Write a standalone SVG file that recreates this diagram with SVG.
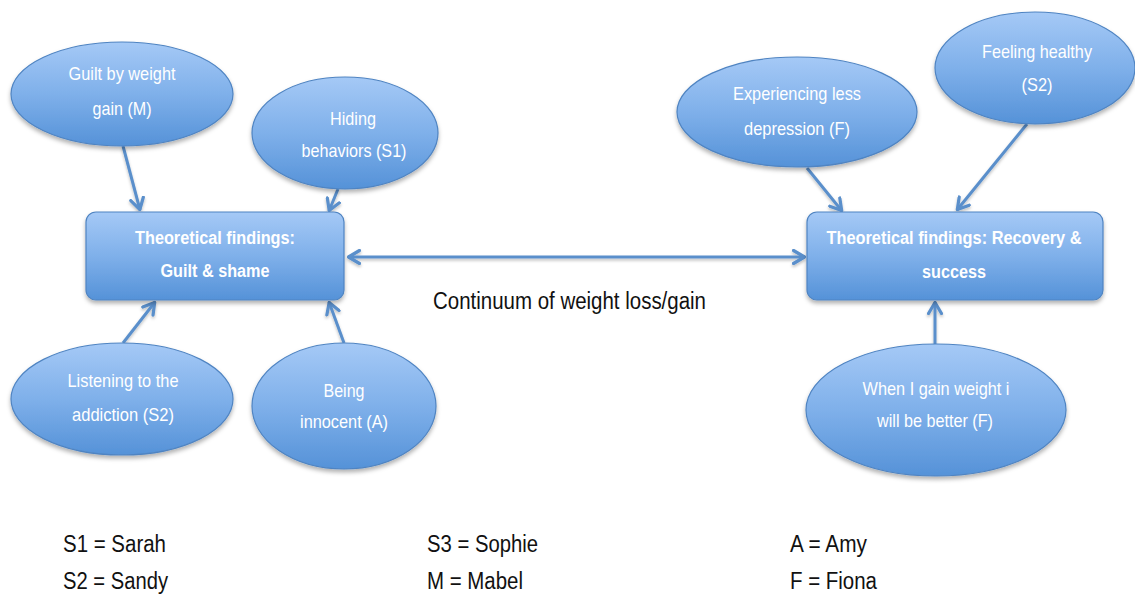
<svg xmlns="http://www.w3.org/2000/svg" width="1135" height="596" viewBox="0 0 1135 596">
  <defs>
    <linearGradient id="blueFill" x1="0" y1="0" x2="0" y2="1">
      <stop offset="0" stop-color="#a5c9f6"/>
      <stop offset="0.5" stop-color="#7fb0ea"/>
      <stop offset="1" stop-color="#5592d8"/>
    </linearGradient>
    <filter id="shadow" x="-10%" y="-10%" width="120%" height="130%">
      <feDropShadow dx="0" dy="3" stdDeviation="2" flood-color="#000" flood-opacity="0.3"/>
    </filter>
    <filter id="lineShadow" filterUnits="userSpaceOnUse" x="0" y="0" width="1135" height="596">
      <feDropShadow dx="0" dy="2" stdDeviation="1.5" flood-color="#000" flood-opacity="0.25"/>
    </filter>
    <marker id="chev" viewBox="0 0 14 16" refX="13" refY="8" markerWidth="14" markerHeight="16" markerUnits="userSpaceOnUse" orient="auto-start-reverse">
      <path d="M1.5,1.5 L12.5,8 L1.5,14.5" fill="none" stroke="#5a8fcb" stroke-width="3.2" stroke-linecap="round" stroke-linejoin="round"/>
    </marker>
    <style>
      .shape { fill: url(#blueFill); stroke: #4f84c2; stroke-width: 1.2; filter: url(#shadow); }
      .lbl { font-family: "Liberation Sans", Arial, sans-serif; font-size: 19px; fill: #ffffff; text-anchor: middle; }
      .bold { font-family: "Liberation Sans", Arial, sans-serif; font-size: 18px; font-weight: bold; fill: #ffffff; text-anchor: middle; }
      .plain { font-family: "Liberation Sans", Arial, sans-serif; font-size: 23px; fill: #111111; }
      .conn { fill: none; stroke: #5a8fcb; stroke-width: 3; marker-end: url(#chev); }
    </style>
  </defs>

  <!-- connectors -->
  <g id="connectors" filter="url(#lineShadow)">
    <line class="conn" x1="123" y1="146" x2="140" y2="210"/>
    <line class="conn" x1="338" y1="189" x2="329" y2="211"/>
    <line class="conn" x1="123" y1="343" x2="155" y2="302"/>
    <line class="conn" x1="344" y1="343" x2="329" y2="302"/>
    <line class="conn" x1="348" y1="257" x2="805" y2="257" marker-start="url(#chev)"/>
    <line class="conn" x1="807" y1="168" x2="842" y2="211"/>
    <line class="conn" x1="1027" y1="124" x2="957" y2="210"/>
    <line class="conn" x1="935" y1="344" x2="935" y2="302"/>
  </g>

  <!-- guilt & shame cluster -->
  <g id="guilt-weight-gain">
    <ellipse class="shape" cx="122" cy="94" rx="111" ry="52"/>
    <text class="lbl" x="122" y="80" textLength="107" lengthAdjust="spacingAndGlyphs">Guilt by weight</text>
    <text class="lbl" x="122" y="115" textLength="59" lengthAdjust="spacingAndGlyphs">gain (M)</text>
  </g>
  <g id="hiding-behaviors">
    <ellipse class="shape" cx="345" cy="133" rx="93" ry="56"/>
    <text class="lbl" x="353" y="125" textLength="46" lengthAdjust="spacingAndGlyphs">Hiding</text>
    <text class="lbl" x="354" y="157" textLength="105" lengthAdjust="spacingAndGlyphs">behaviors (S1)</text>
  </g>
  <g id="guilt-shame">
    <rect class="shape" x="86" y="212" width="258" height="88" rx="10"/>
    <text class="bold" x="215" y="244" textLength="160" lengthAdjust="spacingAndGlyphs">Theoretical findings:</text>
    <text class="bold" x="215" y="277" textLength="109" lengthAdjust="spacingAndGlyphs">Guilt &amp; shame</text>
  </g>
  <g id="listening-addiction">
    <ellipse class="shape" cx="122" cy="399" rx="111" ry="56"/>
    <text class="lbl" x="123" y="387" textLength="111" lengthAdjust="spacingAndGlyphs">Listening to the</text>
    <text class="lbl" x="123" y="421" textLength="102" lengthAdjust="spacingAndGlyphs">addiction (S2)</text>
  </g>
  <g id="being-innocent">
    <ellipse class="shape" cx="344" cy="406" rx="92" ry="63"/>
    <text class="lbl" x="344" y="397" textLength="41" lengthAdjust="spacingAndGlyphs">Being</text>
    <text class="lbl" x="344" y="428" textLength="88" lengthAdjust="spacingAndGlyphs">innocent (A)</text>
  </g>

  <!-- recovery & success cluster -->
  <g id="less-depression">
    <ellipse class="shape" cx="797" cy="112" rx="120" ry="55"/>
    <text class="lbl" x="797" y="100" textLength="128" lengthAdjust="spacingAndGlyphs">Experiencing less</text>
    <text class="lbl" x="797" y="135" textLength="106" lengthAdjust="spacingAndGlyphs">depression (F)</text>
  </g>
  <g id="feeling-healthy">
    <ellipse class="shape" cx="1035" cy="68" rx="100" ry="56"/>
    <text class="lbl" x="1037" y="58" textLength="110" lengthAdjust="spacingAndGlyphs">Feeling healthy</text>
    <text class="lbl" x="1037" y="91" textLength="31" lengthAdjust="spacingAndGlyphs">(S2)</text>
  </g>
  <g id="recovery-success">
    <rect class="shape" x="807" y="212" width="296" height="88" rx="10"/>
    <text class="bold" x="954" y="244" textLength="255" lengthAdjust="spacingAndGlyphs">Theoretical findings: Recovery &amp;</text>
    <text class="bold" x="954" y="278" textLength="64" lengthAdjust="spacingAndGlyphs">success</text>
  </g>
  <g id="gain-weight-better">
    <ellipse class="shape" cx="936" cy="410" rx="130" ry="66"/>
    <text class="lbl" x="936" y="395" textLength="147" lengthAdjust="spacingAndGlyphs">When I gain weight i</text>
    <text class="lbl" x="935" y="427" textLength="116" lengthAdjust="spacingAndGlyphs">will be better (F)</text>
  </g>

  <!-- continuum label -->
  <text class="plain" x="433" y="309" textLength="273" lengthAdjust="spacingAndGlyphs">Continuum of weight loss/gain</text>

  <!-- legend -->
  <g id="legend">
    <text class="plain" x="63" y="552" textLength="103" lengthAdjust="spacingAndGlyphs">S1 = Sarah</text>
    <text class="plain" x="63" y="589" textLength="105" lengthAdjust="spacingAndGlyphs">S2 = Sandy</text>
    <text class="plain" x="427" y="552" textLength="111" lengthAdjust="spacingAndGlyphs">S3 = Sophie</text>
    <text class="plain" x="427" y="589" textLength="96" lengthAdjust="spacingAndGlyphs">M = Mabel</text>
    <text class="plain" x="790" y="552" textLength="77" lengthAdjust="spacingAndGlyphs">A = Amy</text>
    <text class="plain" x="790" y="589" textLength="87" lengthAdjust="spacingAndGlyphs">F = Fiona</text>
  </g>
</svg>
